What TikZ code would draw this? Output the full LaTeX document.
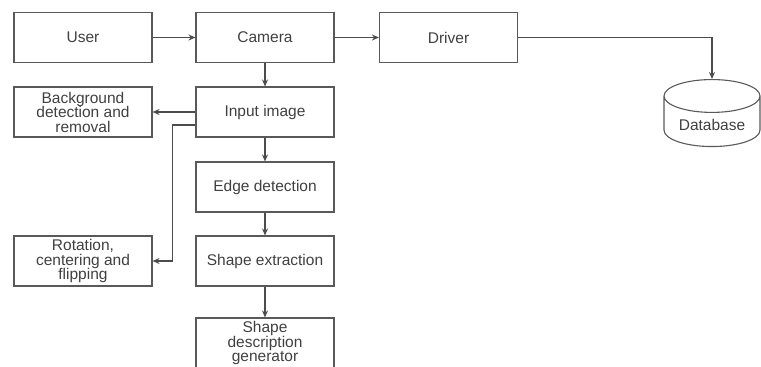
\documentclass[tikz,border=0pt]{standalone}
\usepackage{fontspec}
\setmainfont{Liberation Sans}
\usetikzlibrary{shapes.geometric, arrows.meta}

\begin{document}
\begin{tikzpicture}[x=1pt, y=-1pt, >={Stealth[length=7pt, width=6pt]},
  box/.style={draw=black!65, line width=1.1pt, minimum width=138pt, minimum height=50pt,
    align=center, text=black!75, font=\fontsize{15.5}{14.5}\selectfont, inner sep=1pt},
  link/.style={->, draw=black!70, line width=1.1pt}]
  \useasboundingbox (0,0) rectangle (761,367);
  % first row
  \node[box] (usr) at (83,37.5) {User};
  \node[box] (cam) at (265,37.5) {Camera};
  \node[box] (drv) at (448.5,37.5) {Driver};
  \node[cylinder, shape border rotate=90, aspect=0.45, draw=black!65, line width=1.1pt,
    minimum width=96pt, minimum height=67pt, text=black!75, anchor=north,
    font=\fontsize{15.5}{14.5}\selectfont] (db) at (712,79) {Database};
  % main column
  \node[box] (inp) at (265,112) {Input image};
  \node[box] (edg) at (265,187) {Edge detection};
  \node[box] (shp) at (265,261) {Shape extraction};
  \node[box] (gen) at (265,343) {Shape\\description\\generator};
  % side boxes
  \node[box] (bgr) at (83,112) {Background\\detection and\\removal};
  \node[box] (rot) at (83,261) {Rotation,\\centering and\\flipping};
  % arrows
  \draw[link] (usr) -- (cam);
  \draw[link] (cam) -- (drv);
  \draw[link] (drv.east) -| (db.north);
  \draw[link] (cam) -- (inp);
  \draw[link] (inp) -- (edg);
  \draw[link] (edg) -- (shp);
  \draw[link] (shp) -- (gen);
  \draw[link] (inp.west) -- (bgr.east);
  \draw[link] ([yshift=-13pt]inp.west) -- ++(-23,0) |- (rot.east);
\end{tikzpicture}
\end{document}
